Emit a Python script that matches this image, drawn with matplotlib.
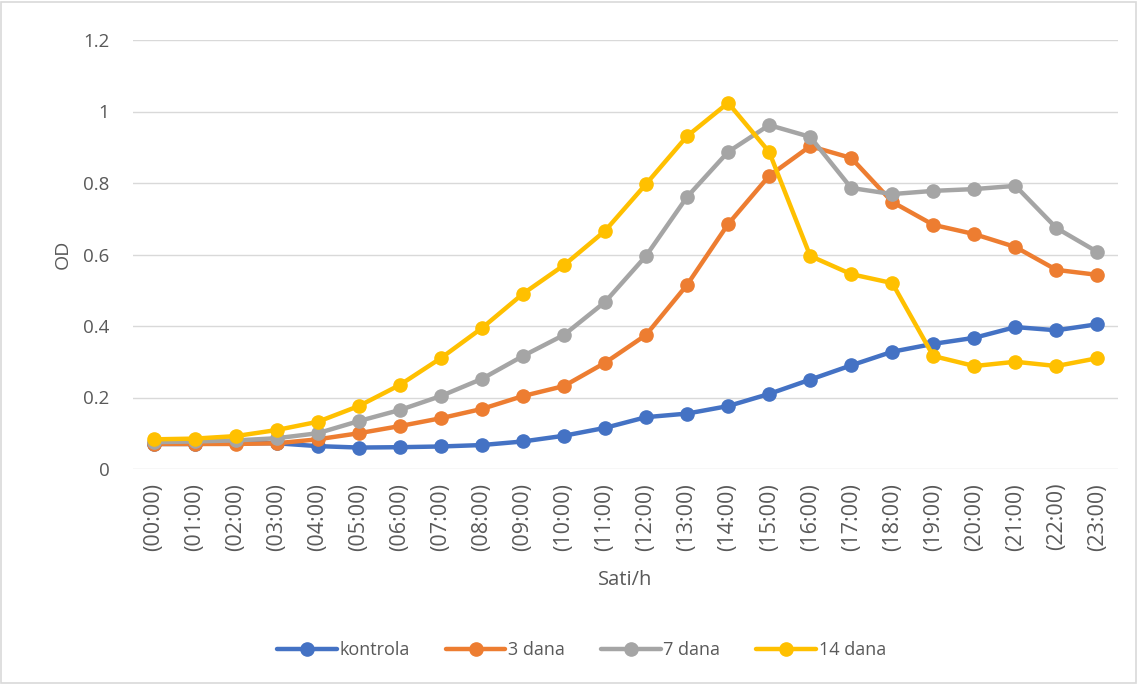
import matplotlib
matplotlib.use("Agg")
import matplotlib.pyplot as plt
from matplotlib.patches import Rectangle

hours = ["(00:00)", "(01:00)", "(02:00)", "(03:00)", "(04:00)", "(05:00)", "(06:00)", "(07:00)",
         "(08:00)", "(09:00)", "(10:00)", "(11:00)", "(12:00)", "(13:00)", "(14:00)", "(15:00)",
         "(16:00)", "(17:00)", "(18:00)", "(19:00)", "(20:00)", "(21:00)", "(22:00)", "(23:00)"]

kontrola = [0.070, 0.070, 0.072, 0.072, 0.064, 0.060, 0.061, 0.063, 0.067, 0.077, 0.093, 0.115,
            0.145, 0.155, 0.176, 0.210, 0.250, 0.290, 0.328, 0.350, 0.367, 0.397, 0.388, 0.405]
dana3 = [0.070, 0.070, 0.070, 0.072, 0.083, 0.100, 0.120, 0.142, 0.168, 0.204, 0.232, 0.297,
         0.375, 0.515, 0.685, 0.820, 0.903, 0.870, 0.747, 0.683, 0.657, 0.621, 0.557, 0.543]
dana7 = [0.075, 0.077, 0.080, 0.086, 0.100, 0.134, 0.165, 0.204, 0.252, 0.316, 0.375, 0.467,
         0.596, 0.761, 0.887, 0.962, 0.929, 0.786, 0.769, 0.778, 0.783, 0.792, 0.674, 0.607]
dana14 = [0.083, 0.085, 0.092, 0.109, 0.132, 0.176, 0.235, 0.310, 0.394, 0.490, 0.570, 0.666,
          0.797, 0.931, 1.024, 0.887, 0.596, 0.545, 0.520, 0.316, 0.288, 0.300, 0.288, 0.310]

series = [("kontrola", kontrola, "#4472C4"),
          ("3 dana", dana3, "#ED7D31"),
          ("7 dana", dana7, "#A5A5A5"),
          ("14 dana", dana14, "#FFC000")]

plt.rcParams['font.family'] = ['Open Sans', 'DejaVu Sans']
text_col = "#595959"

W, H = 1138, 684
fig = plt.figure(figsize=(W / 100, H / 100), dpi=100)
fig.patches.append(Rectangle((1 / W, 1 / H), 1 - 3 / W, 1 - 3 / H, transform=fig.transFigure,
                             fill=False, edgecolor="#D9D9D9", linewidth=1.2))

left, right, top, bottom = 133, 1118, 40, 469
ax = fig.add_axes([left / W, 1 - bottom / H, (right - left) / W, (bottom - top) / H])

x = list(range(len(hours)))
for name, vals, col in series:
    ax.plot(x, vals, color=col, linewidth=3.2, marker="o", markersize=9.5,
            label=name, solid_capstyle="round", zorder=3)

ax.set_xlim(-0.5, len(hours) - 0.5)
ax.set_ylim(0, 1.2)
ax.set_yticks([0, 0.2, 0.4, 0.6, 0.8, 1.0, 1.2])
ax.set_yticklabels(["0", "0.2", "0.4", "0.6", "0.8", "1", "1.2"])
ax.set_xticks(x)
ax.set_xticklabels(hours, rotation=90)
ax.tick_params(axis="y", length=0, labelsize=13.5, colors=text_col, pad=17)
ax.tick_params(axis="x", length=0, labelsize=15.5, colors=text_col, pad=10)
ax.grid(axis="y", color="#D9D9D9", linewidth=1)
ax.set_axisbelow(True)
for s in ax.spines.values():
    s.set_visible(False)

ax.set_ylabel("OD", fontsize=14, color=text_col, labelpad=8)
ax.set_xlabel("Sati/h", fontsize=14.5, color=text_col, labelpad=14)

leg = fig.legend(loc="center", bbox_to_anchor=(0.511, 1 - 650 / H), ncol=4, frameon=False,
                 fontsize=13, handlelength=3.3, columnspacing=2.0, handletextpad=0.15)
for t in leg.get_texts():
    t.set_color(text_col)

fig.savefig("out.png", dpi=100)
